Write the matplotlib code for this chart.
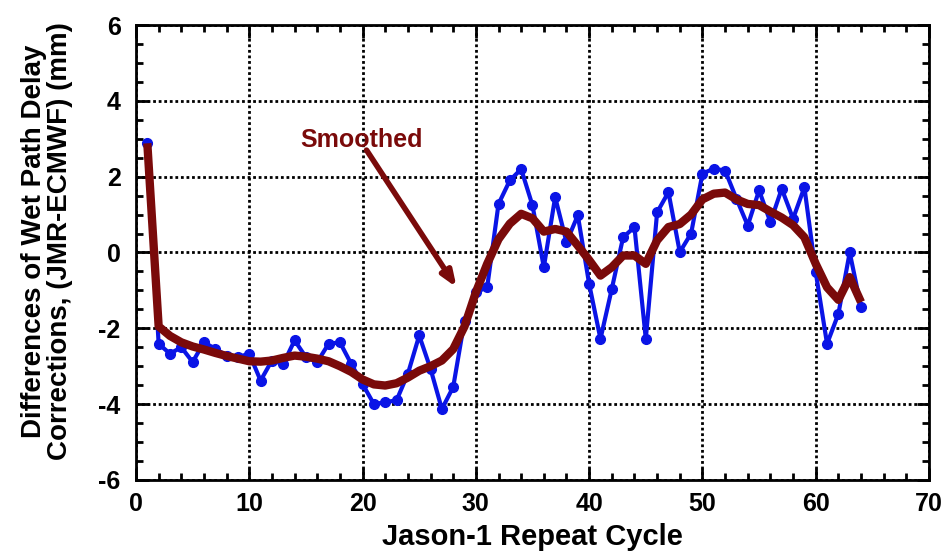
import matplotlib
matplotlib.use('Agg')
import matplotlib.pyplot as plt
from matplotlib.ticker import MultipleLocator

# Jason-1 repeat cycles and the JMR - ECMWF wet path delay differences (mm)
cycles = list(range(1, 65))
diff_mm = [2.88, -2.41, -2.67, -2.50, -2.89, -2.37, -2.54, -2.72, -2.76, -2.67,
           -3.38, -2.85, -2.94, -2.32, -2.76, -2.89, -2.41, -2.37, -2.94, -3.47,
           -4.00, -3.95, -3.90, -3.20, -2.19, -3.07, -4.13, -3.55, -1.80, -1.05,
           -0.92, 1.28, 1.90, 2.20, 1.24, -0.39, 1.46, 0.27, 0.98, -0.83,
           -2.28, -0.96, 0.40, 0.67, -2.28, 1.06, 1.59, 0.01, 0.50, 2.08,
           2.21, 2.16, 1.42, 0.71, 1.64, 0.80, 1.68, 0.89, 1.72, -0.52,
           -2.41, -1.62, 0.00, -1.44]
smoothed_mm = [2.88, -1.95, -2.20, -2.37, -2.48, -2.56, -2.65, -2.73, -2.80, -2.87,
               -2.88, -2.85, -2.78, -2.72, -2.75, -2.80, -2.87, -3.00, -3.15, -3.35,
               -3.48, -3.51, -3.45, -3.30, -3.12, -3.00, -2.85, -2.55, -1.95, -1.05,
               -0.30, 0.35, 0.76, 1.02, 0.90, 0.55, 0.62, 0.55, 0.18, -0.20,
               -0.61, -0.39, -0.08, -0.08, -0.30, 0.32, 0.67, 0.75, 1.00, 1.40,
               1.55, 1.58, 1.40, 1.28, 1.25, 1.08, 0.92, 0.72, 0.40, -0.30,
               -0.92, -1.25, -0.65, -1.31]

plt.rcParams['font.family'] = ['Liberation Sans', 'DejaVu Sans']
plt.rcParams['font.weight'] = 'bold'
plt.rcParams['axes.unicode_minus'] = False   # plain hyphen like the original

red = '#7a0a0a'

fig = plt.figure(figsize=(9.47, 5.51), dpi=100)
ax = fig.add_axes([0.1436, 0.129, 0.8374, 0.8256])

ax.plot(cycles, diff_mm, color='#0a14e6', lw=3, marker='o', ms=7, zorder=3)
ax.plot(cycles, smoothed_mm, color=red, lw=6, solid_capstyle='butt', zorder=4)

# label and arrow pointing at the smoothed curve
ax.text(19.9, 2.97, 'Smoothed', color=red, fontsize=18, fontweight='bold',
        ha='center', va='center')
ax.annotate('', xy=(28.3, -0.92), xytext=(20.35, 2.7),
            arrowprops=dict(arrowstyle='-|>,head_length=0.9,head_width=0.35',
                            color=red, lw=4, shrinkA=0, shrinkB=0))

ax.set_xlim(0, 70)
ax.set_ylim(-6, 6)
ax.xaxis.set_major_locator(MultipleLocator(10))
ax.xaxis.set_minor_locator(MultipleLocator(2))
ax.yaxis.set_major_locator(MultipleLocator(2))
ax.yaxis.set_minor_locator(MultipleLocator(0.5))
ax.tick_params(which='both', direction='in', top=True, right=True, width=2, labelsize=18)
ax.tick_params(which='major', length=9)
ax.tick_params(which='minor', length=5)
ax.tick_params(axis='x', which='major', pad=9)
ax.tick_params(axis='y', which='major', pad=11)
for side in ax.spines.values():
    side.set_linewidth(2)

ax.grid(True, which='major', color='black', linestyle=(0, (1, 1)), lw=2)

ax.set_xlabel('Jason-1 Repeat Cycle', fontsize=21, fontweight='bold', labelpad=5)
ax.set_ylabel('Differences of Wet Path Delay\nCorrections, (JMR-ECMWF) (mm)',
              fontsize=20, fontweight='bold', linespacing=1.0)
ax.yaxis.set_label_coords(-0.08, 0.525)

fig.savefig('out.png', dpi=100)
